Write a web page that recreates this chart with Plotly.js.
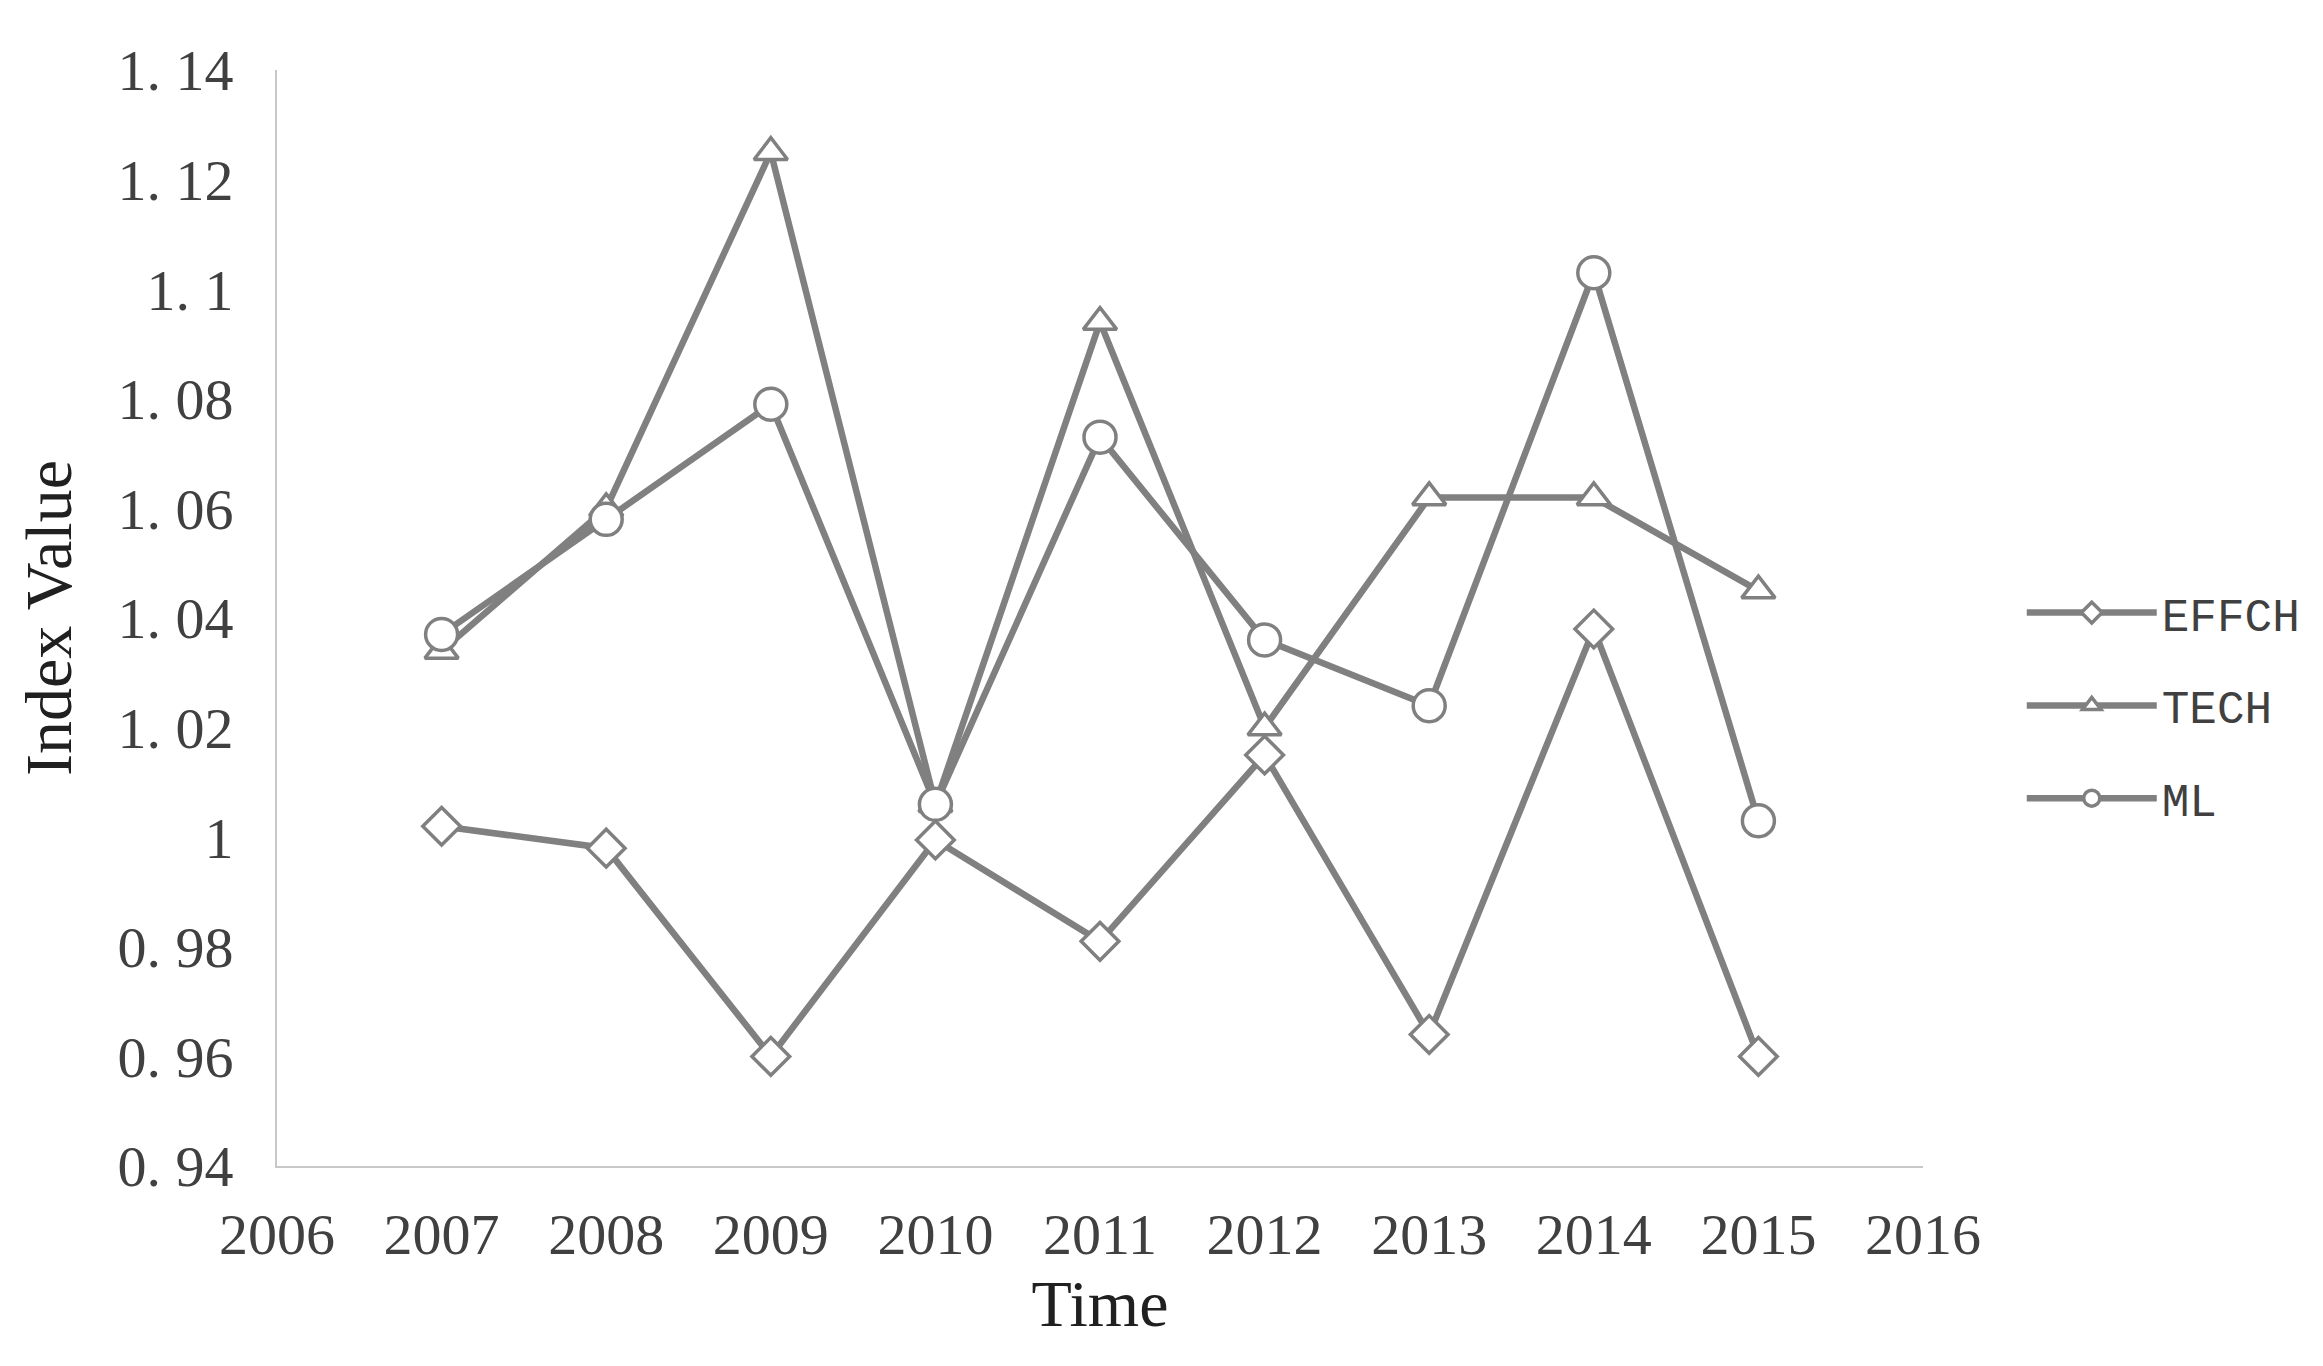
<!DOCTYPE html>
<html>
<head>
<meta charset="utf-8">
<script src="https://cdn.plot.ly/plotly-3.0.1.min.js"></script>
<style>
  html, body { margin: 0; padding: 0; background: #fff; }
  #chart { width: 2323px; height: 1366px; }
</style>
</head>
<body>
<div id="chart"></div>
<script>
var years = [2007, 2008, 2009, 2010, 2011, 2012, 2013, 2014, 2015];
var effch = [1.002, 0.998, 0.960, 0.9995, 0.981, 1.015, 0.964, 1.038, 0.960];
var tech = [1.034, 1.060, 1.125, 1.006, 1.094, 1.020, 1.062, 1.062, 1.045];
var ml = [1.037, 1.058, 1.079, 1.006, 1.073, 1.036, 1.024, 1.103, 1.003];

var yTickVals = [0.94, 0.96, 0.98, 1.00, 1.02, 1.04, 1.06, 1.08, 1.10, 1.12, 1.14];
var yTickText = ['0. 94', '0. 96', '0. 98', '1', '1. 02', '1. 04', '1. 06', '1. 08', '1. 1', '1. 12', '1. 14'];

var gray = 'rgb(128, 128, 128)';

function createSeries(x, y, name, symbol, size) {
    return {
        x: x,
        y: y,
        mode: 'lines+markers',
        name: name,
        legendgroup: name,
        line: {
            width: 6.5,
            color: gray
        },
        marker: {
            symbol: symbol,
            size: size,
            color: 'white',
            line: {
                width: 3.5,
                color: gray
            }
        }
    }
}

var data = [
    createSeries(years, effch, 'EFFCH', 'diamond', 29),
    createSeries(years, tech, 'TECH', 'triangle-up', 29),
    createSeries(years, ml, 'ML', 'circle', 32)
];

var serif = '"Liberation Serif", "DejaVu Serif", serif';

var layout = {
    width: 2323,
    height: 1366,
    paper_bgcolor: 'white',
    plot_bgcolor: 'white',
    margin: { l: 277, r: 400, t: 70, b: 200 },
    showlegend: true,
    legend: {
        x: 1.06,
        y: 0.42,
        xanchor: 'left',
        yanchor: 'middle',
        itemwidth: 130,
        tracegroupgap: 30,
        font: { family: '"Liberation Mono", monospace', size: 46, color: '#404040' }
    },
    xaxis: {
        range: [2006, 2016],
        dtick: 1,
        tick0: 2006,
        showgrid: false,
        zeroline: false,
        showline: true,
        linecolor: 'rgb(200, 200, 200)',
        linewidth: 2,
        ticks: '',
        ticklabelstandoff: 16,
        tickfont: { family: serif, size: 58, color: '#404040' },
        title: {
            text: 'Time',
            standoff: 14,
            font: { family: serif, size: 66, color: '#202020' }
        }
    },
    yaxis: {
        range: [0.94, 1.14],
        tickvals: yTickVals,
        ticktext: yTickText,
        showgrid: false,
        zeroline: false,
        showline: true,
        linecolor: 'rgb(200, 200, 200)',
        linewidth: 2,
        ticks: '',
        ticklabelstandoff: 30,
        tickfont: { family: serif, size: 58, color: '#404040' },
        title: {
            text: 'Index Value',
            standoff: 24,
            font: { family: serif, size: 66, color: '#202020' }
        }
    }
};

Plotly.newPlot('chart', data, layout, { displayModeBar: false });
</script>
</body>
</html>
